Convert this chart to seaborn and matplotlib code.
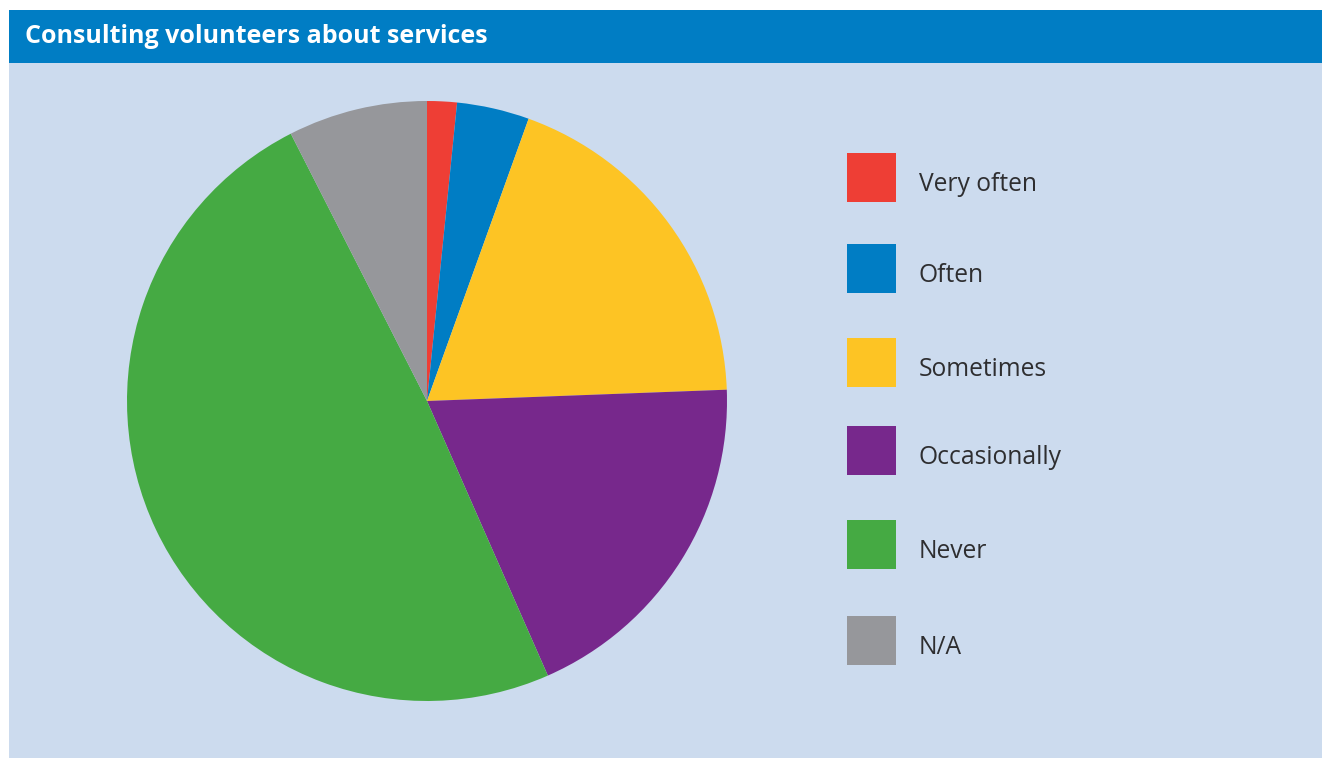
import matplotlib
matplotlib.use("Agg")
import matplotlib.pyplot as plt
from matplotlib.patches import Rectangle
import seaborn as sns

# Survey responses (share of respondents, %)
categories = ["Very often", "Often", "Sometimes", "Occasionally", "Never", "N/A"]
shares = [1.6, 3.9, 18.9, 19.0, 49.1, 7.5]
colors = ["#EE3E35", "#007DC4", "#FDC424", "#77288C", "#45AA43", "#96979B"]

title = "Consulting volunteers about services"

sns.set_theme(style="white")
plt.rcParams["font.family"] = ["Open Sans", "DejaVu Sans"]

W, H, DPI = 1322, 758, 100
fig = plt.figure(figsize=(W / DPI, H / DPI), dpi=DPI, facecolor="white")

def fx(px):
    return px / W

def fy(py):
    return 1 - py / H

# light blue panel and title band
fig.patches.append(Rectangle((fx(9), 0), 1 - fx(9), fy(10), transform=fig.transFigure,
                             facecolor="#CCDBEE", edgecolor="none", zorder=-2))
fig.patches.append(Rectangle((fx(9), fy(63)), 1 - fx(9), fy(10) - fy(63), transform=fig.transFigure,
                             facecolor="#007DC4", edgecolor="none", zorder=-1))
fig.text(fx(25), fy(36.5), title, color="white", fontsize=18, fontweight="bold",
         va="center", ha="left")

# pie
cx, cy, r = 427, 401, 300
ax = fig.add_axes([fx(cx - r), fy(cy + r), 2 * r / W, 2 * r / H], zorder=2)
ax.set_facecolor("none")
ax.pie(shares, colors=colors, startangle=90, counterclock=False, radius=1,
       wedgeprops=dict(linewidth=0))
ax.set_xlim(-1, 1)
ax.set_ylim(-1, 1)
ax.set_aspect("equal")
ax.axis("off")

# legend
tops = [153, 244, 338, 426, 520, 616]
for y0, lab, col in zip(tops, categories, colors):
    fig.patches.append(Rectangle((fx(847), fy(y0 + 49)), 49 / W, 49 / H,
                                 transform=fig.transFigure, facecolor=col,
                                 edgecolor="none", zorder=2))
    fig.text(fx(919), fy(y0 + 38), lab, fontsize=17.7, color="#2E2E30",
             va="baseline", ha="left")

fig.savefig("out.png", dpi=DPI, facecolor="white")
